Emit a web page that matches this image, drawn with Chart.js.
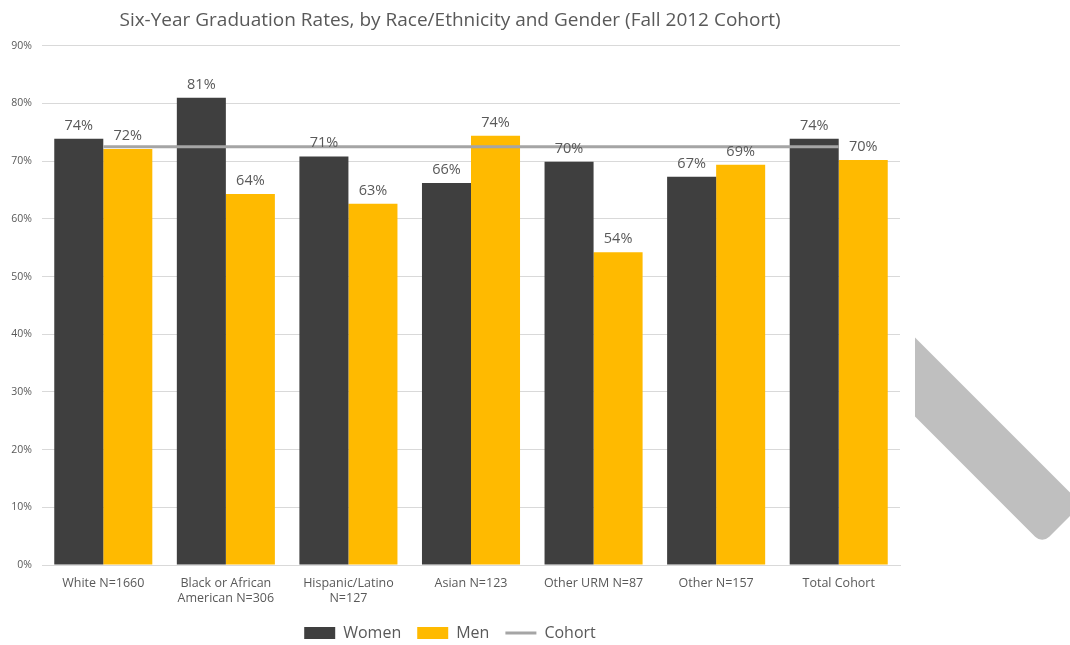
<!DOCTYPE html>
<html>
<head>
<meta charset="utf-8">
<script src="https://cdn.jsdelivr.net/npm/chart.js@4.4.0/dist/chart.umd.min.js"></script>
<style>
  html, body { margin: 0; padding: 0; background: #fff; }
  #wrap { width: 1070px; height: 645px; position: relative; }
</style>
</head>
<body>
<div id="wrap"><canvas id="myChart"></canvas></div>
<script>
const categories = [
    "White N=1660",
    ["Black or African", "American N=306"],
    ["Hispanic/Latino", "N=127"],
    "Asian N=123",
    "Other URM N=87",
    "Other N=157",
    "Total Cohort",
];
const women = [73.9, 81.0, 70.8, 66.2, 69.9, 67.3, 73.9];
const men = [72.1, 64.3, 62.6, 74.4, 54.2, 69.4, 70.2];
const cohort = [72.5, 72.5, 72.5, 72.5, 72.5, 72.5, 72.5];

const textGray = "#595959";
const font = "'Open Sans', 'Noto Sans', sans-serif";

// percentage labels above each bar
const barLabels = {
    id: "barLabels",
    afterDatasetsDraw(chart) {
        const ctx = chart.ctx;
        ctx.save();
        ctx.fillStyle = textGray;
        ctx.font = "14.5px " + font;
        ctx.textAlign = "center";
        ctx.textBaseline = "bottom";
        chart.data.datasets.forEach((ds, i) => {
            if (ds.type === "line") return;
            chart.getDatasetMeta(i).data.forEach((bar, j) => {
                ctx.fillText(Math.round(ds.data[j]) + "%", bar.x, bar.y - 6);
            });
        });
        ctx.restore();
    },
};

// the grey diagonal stroke on the right side of the picture
const sideStroke = {
    id: "sideStroke",
    afterDraw(chart) {
        const ctx = chart.ctx;
        ctx.save();
        ctx.beginPath();
        ctx.rect(915, 0, 200, 645);
        ctx.clip();
        ctx.translate(1062, 524);
        ctx.rotate(Math.PI / 4);
        ctx.fillStyle = "#BFBFBF";
        ctx.beginPath();
        ctx.roundRect(-270, -28, 270, 56, 10);
        ctx.fill();
        ctx.restore();
    },
};

new Chart(document.getElementById("myChart"), {
    type: "bar",
    data: {
        labels: categories,
        datasets: [
            {
                label: "Women",
                data: women,
                backgroundColor: "#3F3F3F",
                borderWidth: 0,
                pointStyle: "rect",
                order: 1,
            },
            {
                label: "Men",
                data: men,
                backgroundColor: "#FFBA00",
                borderWidth: 0,
                pointStyle: "rect",
                order: 1,
            },
            {
                type: "line",
                label: "Cohort",
                data: cohort,
                borderColor: "#A5A5A5",
                backgroundColor: "#A5A5A5",
                borderWidth: 3,
                pointRadius: 0,
                pointStyle: "line",
                order: 0,
            },
        ],
    },
    plugins: [barLabels, sideStroke],
    options: {
        responsive: true,
        maintainAspectRatio: false,
        animation: false,
        datasets: {
            bar: { categoryPercentage: 0.8, barPercentage: 1.0 },
        },
        layout: { padding: { left: 0, right: 170, top: 4, bottom: -6 } },
        plugins: {
            title: {
                display: true,
                text: "Six-Year Graduation Rates, by Race/Ethnicity and Gender (Fall 2012 Cohort)",
                color: textGray,
                font: { family: font, size: 19, weight: "normal" },
                padding: { top: 5, bottom: 14 },
            },
            legend: {
                position: "bottom",
                labels: {
                    usePointStyle: true,
                    pointStyleWidth: 31,
                    boxHeight: 12,
                    color: textGray,
                    font: { family: font, size: 16 },
                    padding: 16,
                    sort: (a, b) => a.datasetIndex - b.datasetIndex,
                },
            },
            tooltip: { enabled: false },
        },
        scales: {
            x: {
                grid: { display: false },
                border: { color: "#D9D9D9" },
                ticks: {
                    color: textGray,
                    font: { family: font, size: 12.5 },
                    maxRotation: 0,
                    autoSkip: false,
                    padding: 3,
                },
            },
            y: {
                min: 0,
                max: 90,
                afterFit: (scale) => { scale.width = 42; },
                grid: { color: "#D9D9D9", drawTicks: false },
                border: { display: false },
                ticks: {
                    stepSize: 10,
                    color: textGray,
                    font: { family: font, size: 10.5 },
                    padding: 10,
                    callback: (v) => v + "%",
                },
            },
        },
    },
});
</script>
</body>
</html>
